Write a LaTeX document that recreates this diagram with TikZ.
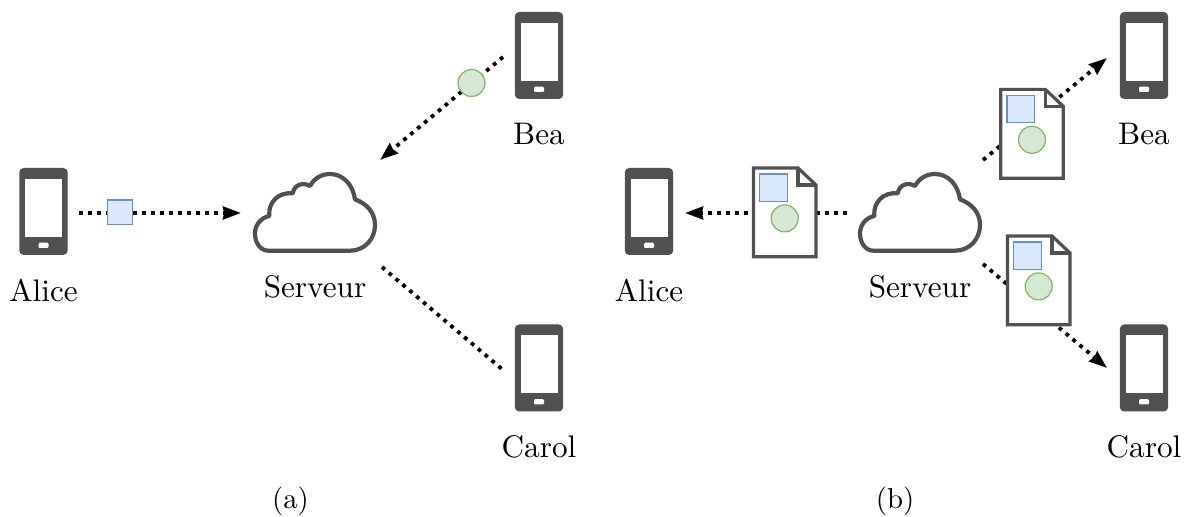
\documentclass[tikz,border=0pt]{standalone}
\usetikzlibrary{arrows.meta}
\definecolor{gear}{HTML}{505050}
\definecolor{bluefill}{HTML}{DAE8FC}
\definecolor{blueline}{HTML}{6C8EBF}
\definecolor{greenfill}{HTML}{D5E8D4}
\definecolor{greenline}{HTML}{82B366}
\tikzset{
  x=0.5pt,y=-0.5pt,
  lbl/.style={inner sep=0pt,anchor=base,scale=1.56,font=\fontsize{10}{12}\selectfont},
  caption/.style={inner sep=0pt,anchor=base,scale=1.44,font=\fontsize{10}{12}\selectfont},
  flow/.style={line width=1.9pt,dash pattern=on 1.9pt off 2.6pt},
  flowarrow/.style={flow,-{Stealth[length=9pt,width=6.4pt,inset=0.6pt]}},
  bluesq/.style={fill=bluefill,draw=blueline,line width=0.6pt},
  greendot/.style={circle,fill=greenfill,draw=greenline,line width=0.6pt,minimum size=13.5pt,inner sep=0pt},
  phone/.pic={
    \fill[gear,rounded corners=2.2pt] (-24.2,-43.5) rectangle (24.2,43.5);
    \fill[white] (-18.5,-32.5) rectangle (18.5,25.5);
    \fill[white,rounded corners=0.6pt] (-5,31.2) rectangle (5,36.5);
  },
  cloud/.pic={
    \draw[gear,line width=2.1pt,fill=white,line join=round]
      (-46.7,38) -- (35,38) .. controls (50,38) and (60,26) .. (60,12.3)
      .. controls (60,0) and (52,-9) .. (40,-13.3)
      .. controls (38,-28) and (28,-38.7) .. (15,-38.7)
      .. controls (6,-38.7) and (-1,-34) .. (-5,-26.7)
      .. controls (-12,-31) and (-21,-28) .. (-22.3,-19.3)
      .. controls (-36,-21) and (-47,-11) .. (-45.7,3.3)
      .. controls (-54,5) and (-60,12) .. (-60,20.7)
      .. controls (-60,31) and (-54,38) .. (-46.7,38) -- cycle;
  },
  docu/.pic={
    \draw[gear,line width=1.6pt,fill=white,line join=miter]
      (-31.3,-44.4) -- (13.3,-44.4) -- (31.3,-27.4) -- (31.3,44.4) -- (-31.3,44.4) -- cycle;
    \draw[gear,line width=1.6pt,line join=miter] (13.3,-44.4) -- (13.3,-27.4) -- (31.3,-27.4);
    \draw[bluesq] (-25,-38.4) rectangle (2.4,-11);
    \node[greendot] at (0,6) {};
  }
}
\begin{document}
\begin{tikzpicture}
\useasboundingbox (0,0) rectangle (1184,517);
% coordinates for connector ends
\coordinate (aAliceOut) at (79,213);
\coordinate (aSrvIn) at (241,213);
\coordinate (aBeaOut) at (503,57);
\coordinate (aSrvBea) at (380,160);
\coordinate (aSrvCarol) at (382,267);
\coordinate (aCarolIn) at (503,370);
\coordinate (bSrvAlice) at (847,213);
\coordinate (bAliceIn) at (685,213);
\coordinate (bSrvBea) at (983,160);
\coordinate (bBeaIn) at (1107,58);
\coordinate (bSrvCarol) at (983,264);
\coordinate (bCarolIn) at (1107,368);
% connectors
\draw[flowarrow] (aAliceOut) -- (aSrvIn);
\draw[flowarrow] (aBeaOut) -- (aSrvBea);
\draw[flow] (aSrvCarol) -- (aCarolIn);
\draw[flowarrow] (bSrvAlice) -- (bAliceIn);
\draw[flowarrow] (bSrvBea) -- (bBeaIn);
\draw[flowarrow] (bSrvCarol) -- (bCarolIn);
% phones
\pic at (43.5,211.5) {phone};
\pic at (539,55.5) {phone};
\pic at (539,368) {phone};
\pic at (649,211.5) {phone};
\pic at (1144,55.5) {phone};
\pic at (1144,368) {phone};
% clouds
\pic at (315,212.7) {cloud};
\pic at (920,212.7) {cloud};
% payload in (a)
\draw[bluesq] (107.5,200) rectangle (132.5,224.5);
\node[greendot] (aDot) at (471.5,83) {};
% documents in (b)
\pic at (784.7,212.4) {docu};
\pic at (1032,133.8) {docu};
\pic at (1038.7,280.4) {docu};
% labels
\node[lbl] (lAlice) at (43.5,302) {Alice};
\node[lbl] (lServeur) at (315,298) {Serveur};
\node[lbl] (lBea) at (539,145) {Bea};
\node[lbl] (lCarol) at (539,458) {Carol};
\node[lbl] (lAlice2) at (649,302) {Alice};
\node[lbl] (lServeur2) at (920,298) {Serveur};
\node[lbl] (lBea2) at (1144,145) {Bea};
\node[lbl] (lCarol2) at (1144,458) {Carol};
\node[caption] (capA) at (290.5,509) {(a)};
\node[caption] (capB) at (895,509) {(b)};
\end{tikzpicture}
\end{document}
